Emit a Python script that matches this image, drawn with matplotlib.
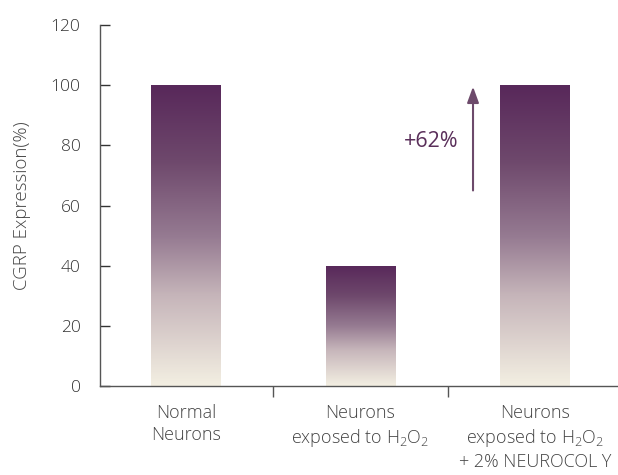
import numpy as np
import matplotlib
matplotlib.use("Agg")
import matplotlib.pyplot as plt
from matplotlib.colors import LinearSegmentedColormap

plt.rcParams['font.family'] = ['Open Sans', 'DejaVu Sans']
plt.rcParams['font.weight'] = 'light'
plt.rcParams['axes.labelweight'] = 'light'
plt.rcParams['mathtext.fontset'] = 'custom'
plt.rcParams['mathtext.rm'] = 'Open Sans:light'

categories = ["Normal\nNeurons",
              "Neurons\nexposed to $\\mathregular{H_2O_2}$",
              "Neurons\nexposed to $\\mathregular{H_2O_2}$\n+ 2% NEUROCOL Y"]
values = [100, 40, 100]
yticks = [0, 20, 40, 60, 80, 100, 120]
change_label = "+62%"
arrow_from, arrow_to = 65, 99.5

# vertical gradient: cream at the base, deep plum at the top
grad = LinearSegmentedColormap.from_list(
    "plum",
    [(0.0, "#f3efe2"), (0.3, "#c6b5ba"), (0.5, "#957a91"),
     (0.75, "#6e486c"), (1.0, "#58285a")])

fig = plt.figure(figsize=(6.18, 4.75), dpi=100)
ax = fig.add_axes([100 / 618, 1 - 386 / 475, 518 / 618, 361 / 475])
ax.set_xlim(-0.493, 2.476)
ax.set_ylim(0, 120)

x = np.arange(len(values))
bars = ax.bar(x, values, width=0.4, color="none", edgecolor="none")
g = np.linspace(0, 1, 256).reshape(-1, 1)
for b in bars:
    x0, y0 = b.get_x(), b.get_y()
    w, h = b.get_width(), b.get_height()
    im = ax.imshow(g, cmap=grad, aspect="auto", origin="lower",
                   extent=[x0, x0 + w, y0, y0 + h], zorder=2)
    im.set_clip_path(b)

# increase annotation
ax.annotate("", xy=(1.645, arrow_to), xytext=(1.645, arrow_from),
            arrowprops=dict(arrowstyle="-|>,head_length=0.6,head_width=0.22",
                            color="#6d4a6b", lw=1.5,
                            mutation_scale=16, shrinkA=0, shrinkB=0),
            zorder=3)
ax.text(1.407, 81.4, change_label, color="#5a2f5a", fontsize=15.5,
        fontweight="normal", ha="center", va="center")

for side in ("top", "right"):
    ax.spines[side].set_visible(False)
for side in ("left", "bottom"):
    ax.spines[side].set_color("#555555")
    ax.spines[side].set_linewidth(1.0)

ax.set_yticks(yticks)
ax.tick_params(axis="y", direction="in", length=7, width=1, color="#333333",
               labelsize=12.5, labelcolor="#333333", pad=14)

ax.set_xticks(x)
ax.set_xticklabels(categories, fontsize=13, color="#444444", linespacing=1.3,
                   va="top")
ax.tick_params(axis="x", which="major", length=0, pad=13)
ax.set_xticks([0.5, 1.5], minor=True)
ax.tick_params(axis="x", which="minor", direction="out", length=8, width=1,
               color="#555555")

ax.set_ylabel("CGRP Expression(%)", fontsize=13.5, color="#444444", labelpad=14)

fig.savefig("out.png", dpi=100)
